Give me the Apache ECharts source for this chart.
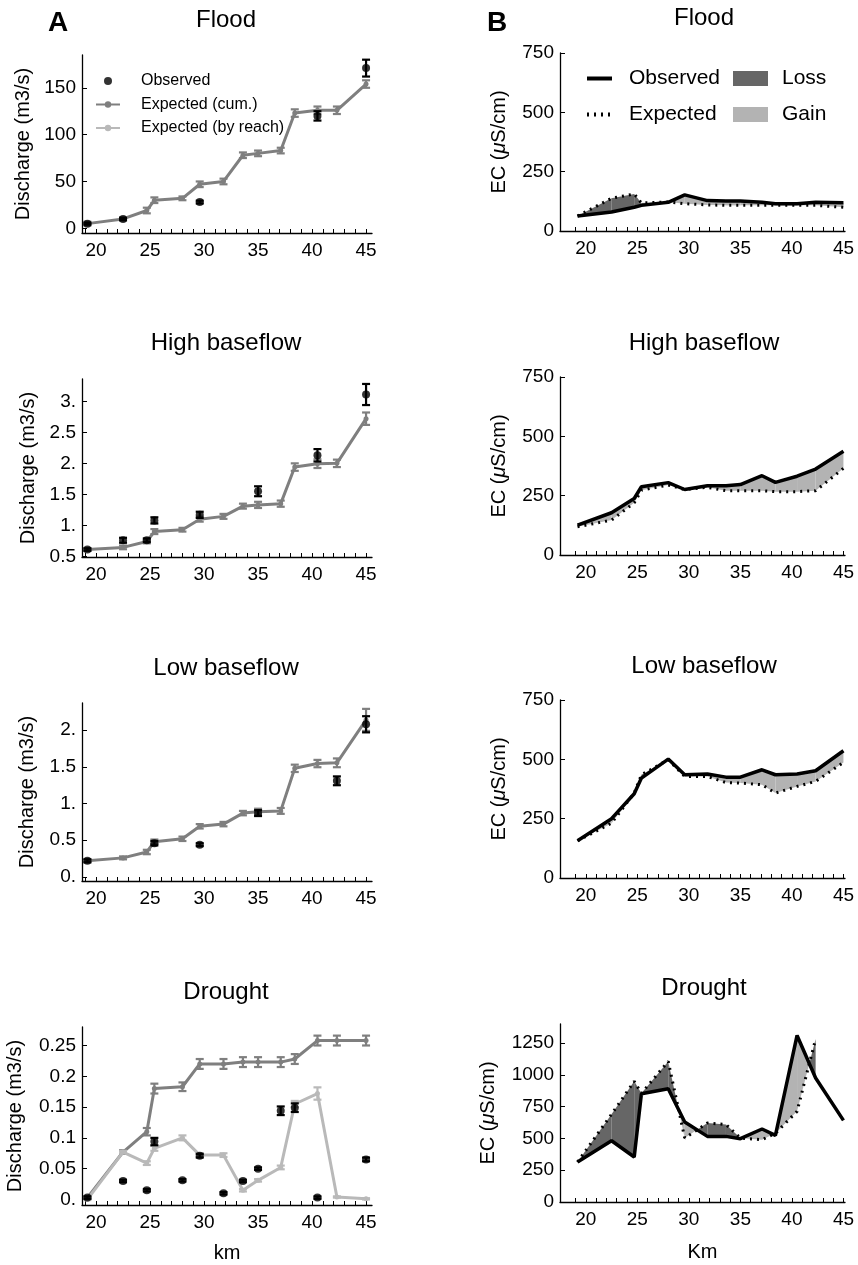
<!DOCTYPE html>
<html>
<head>
<meta charset="utf-8">
<script src="https://cdn.jsdelivr.net/npm/echarts@6.0.0/dist/echarts.min.js"></script>
<style>
  html, body { margin: 0; padding: 0; background: #fff; }
  #chart { width: 858px; height: 1265px; }
</style>
</head>
<body>
<div id="chart"></div>
<script>
// sampling stations along the river (km)
const stationKm = [19.2, 22.5, 24.7, 25.4, 28.0, 29.6, 31.8, 33.6, 35.0, 37.1, 38.4, 40.5, 42.3, 45.0];
const kmTicks = [20, 25, 30, 35, 40, 45];

// Panel A: discharge (m3/s)
const floodExpCum    = [5, 10, 19, 30, 32, 47, 50, 78, 80, 83, 123, 126, 126, 154];
const floodExpCumErr = [2, 2, 3, 3, 2, 3, 3, 3, 3, 3, 4, 4, 4, 4];
const floodObs       = [5, 10, null, null, null, 28, null, null, null, null, null, 120, null, 171];
const floodObsErr    = [1, 1, null, null, null, 1.5, null, null, null, null, null, 5, null, 9];

const highExpCum    = [0.61, 0.645, 0.74, 0.90, 0.93, 1.10, 1.145, 1.31, 1.33, 1.35, 1.94, 1.995, 2.0, 2.72];
const highExpCumErr = [0.02, 0.03, 0.03, 0.04, 0.03, 0.04, 0.04, 0.04, 0.05, 0.05, 0.06, 0.07, 0.06, 0.1];
const highObs       = [0.61, 0.76, 0.76, 1.08, null, 1.17, null, null, 1.55, null, null, 2.13, null, 3.11];
const highObsErr    = [0.02, 0.04, 0.03, 0.05, null, 0.05, null, null, 0.08, null, null, 0.1, null, 0.17];

const lowExpCum    = [0.22, 0.26, 0.34, 0.48, 0.52, 0.69, 0.72, 0.87, 0.89, 0.90, 1.48, 1.545, 1.555, 2.14];
const lowExpCumErr = [0.02, 0.02, 0.03, 0.03, 0.03, 0.03, 0.03, 0.03, 0.04, 0.04, 0.05, 0.05, 0.06, 0.15];
const lowObs       = [0.22, null, null, 0.46, null, 0.44, null, null, 0.87, null, null, null, 1.31, 2.08];
const lowObsErr    = [0.02, null, null, 0.03, null, 0.02, null, null, 0.04, null, null, null, 0.06, 0.11];

const droughtExpCum      = [0.003, 0.077, 0.11, 0.18, 0.183, 0.22, 0.22, 0.223, 0.223, 0.223, 0.228, 0.258, 0.258, 0.258];
const droughtExpCumErr   = [0.002, 0.003, 0.006, 0.008, 0.007, 0.008, 0.008, 0.008, 0.008, 0.008, 0.008, 0.008, 0.008, 0.008];
const droughtExpReach    = [0.0, 0.077, 0.059, 0.083, 0.10, 0.072, 0.072, 0.015, 0.031, 0.052, 0.155, 0.172, 0.004, 0.001];
const droughtExpReachErr = [0.001, 0.002, 0.003, 0.004, 0.004, 0.003, 0.003, 0.002, 0.002, 0.003, 0.005, 0.01, 0.001, 0.001];
const droughtObs         = [0.003, 0.03, 0.015, 0.094, 0.031, 0.071, 0.01, 0.03, 0.05, 0.144, 0.149, 0.003, null, 0.065];
const droughtObsErr      = [0.002, 0.002, 0.002, 0.006, 0.002, 0.003, 0.002, 0.002, 0.002, 0.007, 0.007, 0.002, null, 0.003];

const floodQTicks   = [0, 50, 100, 150];
const highQTicks    = [0.5, 1, 1.5, 2, 2.5, 3];
const lowQTicks     = [0, 0.5, 1, 1.5, 2];
const droughtQTicks = [0, 0.05, 0.1, 0.15, 0.2, 0.25];

// Panel B: electrical conductivity (uS/cm)
const ecFloodObs   = [63, 80, 100, 108, 121, 152, 128, 126, 126, 121, 115, 115, 121, 119];
const ecFloodExp   = [63, 138, 156, 118, 122, 115, 110, 108, 108, 108, 108, 108, 108, 100];
const ecHighObs    = [126, 178, 238, 288, 305, 276, 292, 292, 297, 334, 306, 332, 362, 437];
const ecHighExp    = [119, 147, 220, 273, 295, 276, 285, 271, 271, 271, 267, 267, 271, 365];
const ecLowObs     = [157, 250, 355, 421, 501, 435, 438, 425, 425, 456, 435, 438, 452, 536];
const ecLowExp     = [157, 231, 358, 435, 498, 428, 428, 402, 400, 393, 358, 386, 407, 487];
const ecDroughtObs = [314, 482, 354, 852, 891, 629, 516, 516, 498, 574, 524, 1310, 975, 642];
const ecDroughtExp = [314, 690, 949, 855, 1106, 503, 621, 610, 503, 490, 540, 713, 1282, null];

const ecTicks        = [0, 250, 500, 750];
const ecDroughtTicks = [0, 250, 500, 750, 1000, 1250];

const FONT = 'Liberation Sans, Arial, Helvetica, sans-serif';
const CUM = '#7f7f7f';
const REACH = '#b9b9b9';
const LOSS = '#666666';
const GAIN = '#b3b3b3';

const kmMinor = [];
for (let k = 19; k <= 45; k++) kmMinor.push(k);

function pts(ys) {
  return stationKm.map((x, i) => ys[i] == null ? null : [x, ys[i]]).filter(Boolean);
}
function bars(ys, errs) {
  return stationKm.map((x, i) => (ys[i] == null || errs[i] == null) ? null : [x, ys[i] - errs[i], ys[i] + errs[i]]).filter(Boolean);
}
function segments(obs, exp) {
  const out = [];
  for (let i = 0; i < stationKm.length - 1; i++) {
    if ([obs[i], obs[i + 1], exp[i], exp[i + 1]].some(v => v == null)) continue;
    out.push([stationKm[i], stationKm[i + 1], obs[i], obs[i + 1], exp[i], exp[i + 1]]);
  }
  return out;
}
const mathFmt = v => Number.isInteger(v) ? v + '.' : String(v);

function errRender(color) {
  return function (params, api) {
    const x = api.value(0);
    const a = api.coord([x, api.value(1)]);
    const b = api.coord([x, api.value(2)]);
    const st = { stroke: color, lineWidth: 2.2 };
    return {
      type: 'group',
      children: [
        { type: 'line', shape: { x1: a[0], y1: a[1], x2: b[0], y2: b[1] }, style: st },
        { type: 'line', shape: { x1: a[0] - 4, y1: a[1], x2: a[0] + 4, y2: a[1] }, style: st },
        { type: 'line', shape: { x1: b[0] - 4, y1: b[1], x2: b[0] + 4, y2: b[1] }, style: st }
      ]
    };
  };
}

// sign +1 -> loss (expected above observed), -1 -> gain
function fillRender(sign, color) {
  return function (params, api) {
    const x0 = api.value(0), x1 = api.value(1);
    const o0 = api.value(2), o1 = api.value(3), e0 = api.value(4), e1 = api.value(5);
    const d0 = sign * (e0 - o0), d1 = sign * (e1 - o1);
    let p;
    if (d0 <= 0 && d1 <= 0) return null;
    if (d0 >= 0 && d1 >= 0) {
      p = [[x0, o0], [x1, o1], [x1, e1], [x0, e0]];
    } else {
      const t = d0 / (d0 - d1);
      const xc = x0 + t * (x1 - x0), yc = o0 + t * (o1 - o0);
      p = d0 > 0 ? [[x0, o0], [xc, yc], [x0, e0]] : [[xc, yc], [x1, o1], [x1, e1]];
    }
    return { type: 'polygon', shape: { points: p.map(q => api.coord(q)) }, style: { fill: color } };
  };
}

const grids = [], xAxes = [], yAxes = [], series = [], graphics = [];

function axisPair(gi, c) {
  const nameStyle = { fontSize: 20, color: '#000', fontFamily: FONT };
  xAxes.push({
    gridIndex: gi, type: 'value', min: c.xMin, max: c.xMax,
    axisLine: { onZero: false, lineStyle: { color: '#000', width: 1.3 } },
    axisTick: { inside: true, length: 4, customValues: kmMinor, lineStyle: { color: '#000', width: 1 } },
    axisLabel: { customValues: kmTicks, fontSize: 19, color: '#000', fontFamily: FONT, margin: 8 },
    splitLine: { show: false },
    name: c.xName || '', nameLocation: 'middle', nameGap: c.xNameGap || 30, nameTextStyle: nameStyle
  });
  yAxes.push({
    gridIndex: gi, type: 'value', min: c.yMin, max: c.yMax,
    axisLine: { show: true, onZero: false, lineStyle: { color: '#000', width: 1.3 } },
    axisTick: { show: true, inside: true, length: 5, customValues: c.yTicks, lineStyle: { color: '#000', width: 1 } },
    axisLabel: { customValues: c.yTicks, formatter: c.fmt, fontSize: 19, color: '#000', fontFamily: FONT, margin: 6 },
    splitLine: { show: false },
    name: c.yName, nameLocation: 'middle', nameGap: c.yNameGap,
    nameTextStyle: Object.assign({}, nameStyle, {
      rich: {
        a: { fontSize: 20, fontFamily: FONT, color: '#000' },
        i: { fontSize: 20, fontFamily: FONT, color: '#000', fontStyle: 'italic' }
      }
    })
  });
}

function label(text, x, y, size, weight) {
  graphics.push({
    type: 'text', x: x, y: y,
    style: {
      text: text, fill: '#000', fontSize: size, fontFamily: FONT, fontWeight: weight || 'normal',
      textAlign: 'center', textVerticalAlign: 'middle', align: 'center', verticalAlign: 'middle'
    }
  });
}

// ---- panel A ----
const panelsA = [
  { title: 'Flood', top: 55, ty: 20, exp: floodExpCum, expErr: floodExpCumErr, obs: floodObs, obsErr: floodObsErr,
    yMin: -5, yMax: 185, yTicks: floodQTicks, fmt: v => String(v), yNameGap: 49 },
  { title: 'High baseflow', top: 379, ty: 343, exp: highExpCum, expErr: highExpCumErr, obs: highObs, obsErr: highObsErr,
    yMin: 0.49, yMax: 3.36, yTicks: highQTicks, fmt: mathFmt, yNameGap: 44 },
  { title: 'Low baseflow', top: 703, ty: 668, exp: lowExpCum, expErr: lowExpCumErr, obs: lowObs, obsErr: lowObsErr,
    yMin: -0.055, yMax: 2.37, yTicks: lowQTicks, fmt: mathFmt, yNameGap: 45 },
  { title: 'Drought', top: 1027, ty: 992, exp: droughtExpCum, expErr: droughtExpCumErr, obs: droughtObs, obsErr: droughtObsErr,
    reach: droughtExpReach, reachErr: droughtExpReachErr,
    yMin: -0.009, yMax: 0.28, yTicks: droughtQTicks, fmt: mathFmt, yNameGap: 57, xName: 'km', xNameGap: 38 }
];

panelsA.forEach(p => {
  const gi = grids.length;
  grids.push({ left: 82, top: p.top, width: 290, height: 178 });
  axisPair(gi, {
    xMin: 18.7, xMax: 45.55, yMin: p.yMin, yMax: p.yMax, yTicks: p.yTicks, fmt: p.fmt,
    yName: 'Discharge (m3/s)', yNameGap: p.yNameGap, xName: p.xName, xNameGap: p.xNameGap
  });
  label(p.title, 226, p.ty, 24);
  const ax = { xAxisIndex: gi, yAxisIndex: gi };
  series.push(Object.assign({
    name: 'Expected (cum.)', type: 'line', data: pts(p.exp), color: CUM,
    lineStyle: { width: 3, color: CUM }, symbol: 'circle', symbolSize: 5, z: 2
  }, ax));
  series.push(Object.assign({
    name: 'cumErr', type: 'custom', data: bars(p.exp, p.expErr), renderItem: errRender(CUM),
    encode: { x: 0, y: [1, 2] }, z: 2
  }, ax));
  if (p.reach) {
    series.push(Object.assign({
      name: 'Expected (by reach)', type: 'line', data: pts(p.reach), color: REACH,
      lineStyle: { width: 3, color: REACH }, symbol: 'circle', symbolSize: 5, z: 3
    }, ax));
    series.push(Object.assign({
      name: 'reachErr', type: 'custom', data: bars(p.reach, p.reachErr), renderItem: errRender(REACH),
      encode: { x: 0, y: [1, 2] }, z: 3
    }, ax));
  }
  series.push(Object.assign({
    name: 'Observed', type: 'scatter', data: pts(p.obs), symbol: 'circle', symbolSize: 8,
    itemStyle: { color: '#000' }, z: 5
  }, ax));
  series.push(Object.assign({
    name: 'obsErr', type: 'custom', data: bars(p.obs, p.obsErr), renderItem: errRender('#000'),
    encode: { x: 0, y: [1, 2] }, z: 5
  }, ax));
});

// ---- panel B ----
const panelsB = [
  { title: 'Flood', top: 53, ty: 18, obs: ecFloodObs, exp: ecFloodExp, yMax: 750, yTicks: ecTicks, yNameGap: 51 },
  { title: 'High baseflow', top: 377, ty: 343, obs: ecHighObs, exp: ecHighExp, yMax: 750, yTicks: ecTicks, yNameGap: 51 },
  { title: 'Low baseflow', top: 700, ty: 666, obs: ecLowObs, exp: ecLowExp, yMax: 750, yTicks: ecTicks, yNameGap: 51 },
  { title: 'Drought', top: 1024, ty: 988, obs: ecDroughtObs, exp: ecDroughtExp, yMax: 1400, yTicks: ecDroughtTicks,
    yNameGap: 62, xName: 'Km', xNameGap: 40 }
];

panelsB.forEach(p => {
  const gi = grids.length;
  grids.push({ left: 560, top: p.top, width: 285, height: 178 });
  axisPair(gi, {
    xMin: 17.5, xMax: 45.15, yMin: 0, yMax: p.yMax, yTicks: p.yTicks, fmt: v => String(v),
    yName: '{a|EC (}{i|\u03bc}{a|S/cm)}', yNameGap: p.yNameGap, xName: p.xName, xNameGap: p.xNameGap
  });
  label(p.title, 704, p.ty, 24);
  const ax = { xAxisIndex: gi, yAxisIndex: gi };
  const seg = segments(p.obs, p.exp);
  series.push(Object.assign({
    name: 'Loss', type: 'custom', data: seg, renderItem: fillRender(1, LOSS),
    itemStyle: { color: LOSS }, encode: { x: [0, 1], y: [2, 3, 4, 5] }, z: 1
  }, ax));
  series.push(Object.assign({
    name: 'Gain', type: 'custom', data: seg, renderItem: fillRender(-1, GAIN),
    itemStyle: { color: GAIN }, encode: { x: [0, 1], y: [2, 3, 4, 5] }, z: 1
  }, ax));
  series.push(Object.assign({
    name: 'EC Expected', type: 'line', data: pts(p.exp), symbol: 'none', color: '#000',
    lineStyle: { color: '#000', width: 3, type: [2, 5] }, z: 3
  }, ax));
  series.push(Object.assign({
    name: 'EC Observed', type: 'line', data: pts(p.obs), symbol: 'none', color: '#000',
    lineStyle: { color: '#000', width: 3.5 }, z: 4
  }, ax));
});

label('A', 58, 23, 28, 'bold');
label('B', 497, 23, 28, 'bold');

const legendText = size => ({ fontSize: size, color: '#000', fontFamily: FONT });

const option = {
  animation: false,
  backgroundColor: '#fff',
  grid: grids,
  xAxis: xAxes,
  yAxis: yAxes,
  graphic: graphics,
  legend: [
    {
      data: ['Observed', 'Expected (cum.)', 'Expected (by reach)'],
      orient: 'vertical', left: 95, top: 73, padding: 0, itemWidth: 24, itemHeight: 8, itemGap: 7.5,
      selectedMode: false,
      textStyle: Object.assign(legendText(16), { padding: [0, 0, 0, 16] })
    },
    {
      data: ['EC Observed', 'EC Expected'],
      orient: 'vertical', left: 585, top: 68, padding: 0, itemWidth: 25, itemHeight: 15, itemGap: 15,
      selectedMode: false, formatter: n => n.replace('EC ', ''),
      itemStyle: { opacity: 0 },
      lineStyle: { width: 4 },
      textStyle: Object.assign(legendText(21), { padding: [0, 0, 0, 12] })
    },
    {
      data: ['Loss', 'Gain'], icon: 'rect',
      orient: 'vertical', left: 733, top: 68, padding: 0, itemWidth: 35, itemHeight: 15, itemGap: 15,
      selectedMode: false,
      textStyle: Object.assign(legendText(21), { padding: [0, 0, 0, 9] })
    }
  ],
  series: series
};

const chart = echarts.init(document.getElementById('chart'));
chart.setOption(option);
</script>
</body>
</html>
